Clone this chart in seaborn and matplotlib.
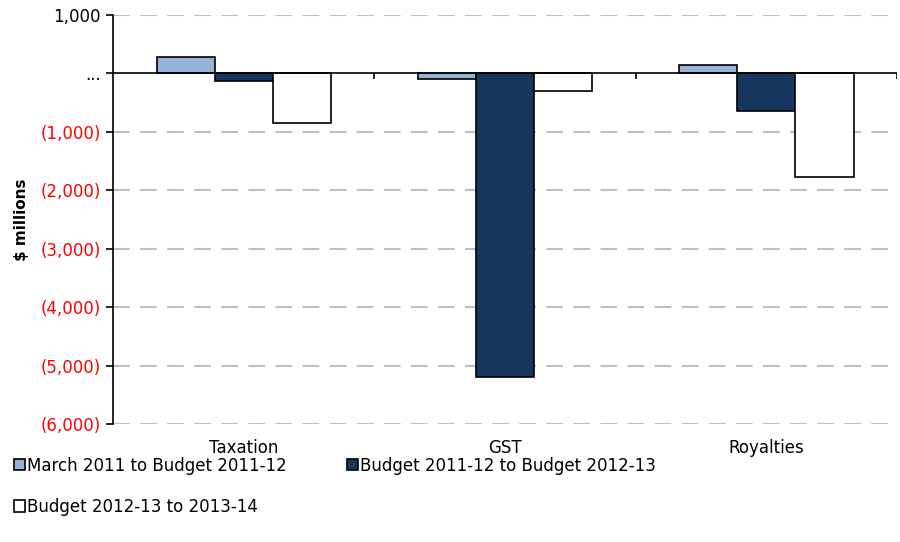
import pandas as pd
import numpy as np
import matplotlib.pyplot as plt
import seaborn as sns

categories = ['Taxation', 'GST', 'Royalties']
series = ['March 2011 to Budget 2011-12', 'Budget 2011-12 to Budget 2012-13', 'Budget 2012-13 to 2013-14']
march_to_budget = [280, -100, 140]
budget_to_budget = [-135, -5190, -645]
budget_to_forward = [-850, -305, -1770]
yticks = [1000, 0, -1000, -2000, -3000, -4000, -5000, -6000]

colors = ['#95B3D7', '#17375E', '#FFFFFF']

data = pd.DataFrame({
    'category': categories * 3,
    'series': np.repeat(series, len(categories)),
    'value': march_to_budget + budget_to_budget + budget_to_forward,
})

sns.set_style('white')
plt.rcParams['font.family'] = ['DejaVu Sans']
plt.rcParams['text.color'] = 'black'
plt.rcParams['xtick.color'] = 'black'
plt.rcParams['ytick.color'] = 'black'
plt.rcParams['axes.labelcolor'] = 'black'

fig = plt.figure(figsize=(9, 5.42), dpi=100)
ax = fig.add_axes([0.1256, 0.2177, 0.8711, 0.7546])

sns.barplot(data=data, x='category', y='value', hue='series', order=categories, hue_order=series,
            palette=colors, saturation=1, edgecolor='black', linewidth=1.2, width=0.667, ax=ax, legend=True)

ax.set_ylim(-6000, 1000)
ax.set_xlim(-0.5, len(categories) - 0.5)
ax.set_yticks(yticks)
for y in yticks:
    if y != 0:
        ax.axhline(y, color='#BFBFBF', lw=1.5, dashes=(8, 5), zorder=0)
ax.axhline(0, color='black', lw=1.2, zorder=3)
ax.vlines([i + 0.5 for i in range(len(categories))], -100, 0, color='black', lw=1.2, zorder=3)

def fmt(v):
    if v == 0:
        return '...'
    if v < 0:
        return '({:,})'.format(-v)
    return '{:,}'.format(v)

ax.set_yticklabels([fmt(v) for v in yticks], fontsize=12)
for lbl, v in zip(ax.get_yticklabels(), yticks):
    lbl.set_color('red' if v < 0 else 'black')
ax.tick_params(axis='y', direction='out', length=5, width=1.2, color='black', left=True, pad=4)
ax.tick_params(axis='x', length=0, labelsize=12, pad=11)

for s in ['top', 'right', 'bottom']:
    ax.spines[s].set_visible(False)
ax.spines['left'].set_color('black')
ax.spines['left'].set_linewidth(1.2)

ax.set_xlabel('')
ax.set_ylabel('$ millions', fontsize=11, fontweight='bold', labelpad=8)

handles, labels = ax.get_legend_handles_labels()
ax.get_legend().remove()
order = [0, 2, 1]
fig.legend([handles[i] for i in order], [labels[i] for i in order], loc='upper left',
           bbox_to_anchor=(0.008, 0.17), ncol=2, frameon=False,
           fontsize=12, handlelength=0.65, handleheight=0.65, handletextpad=0.15, columnspacing=3.6,
           labelspacing=1.4, borderaxespad=0)

fig.savefig('out.png', dpi=100)
